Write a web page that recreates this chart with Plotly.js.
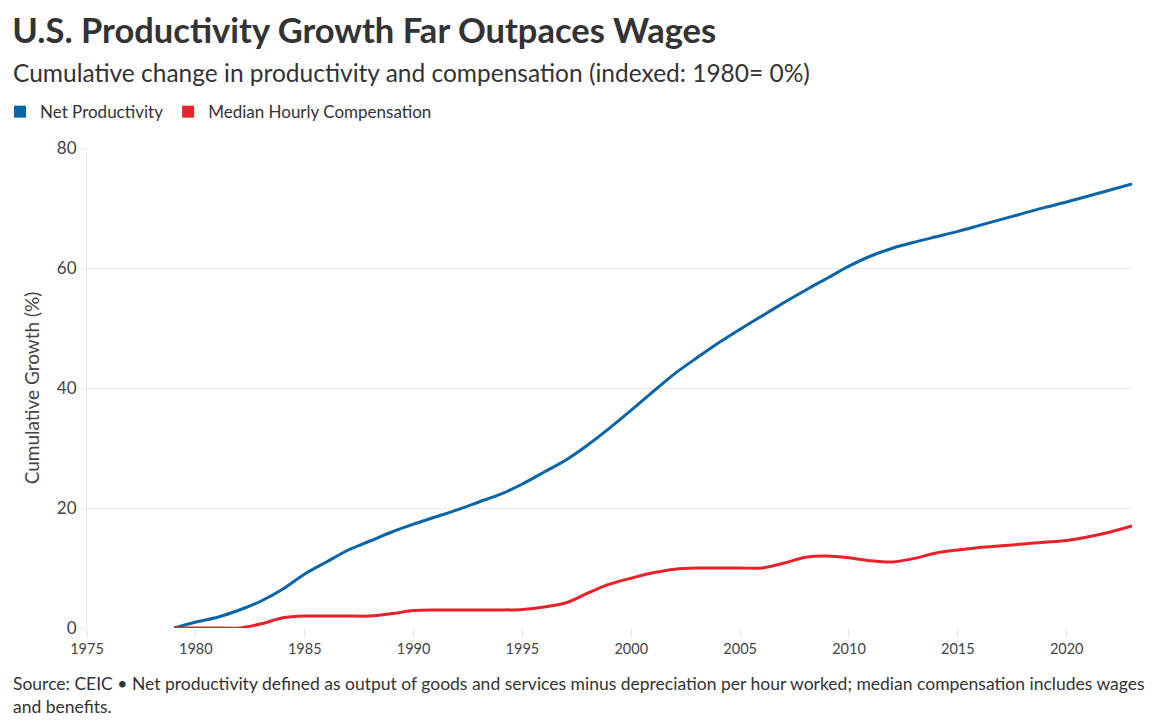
<!DOCTYPE html>
<html>
<head>
<meta charset="utf-8">
<script src="https://cdn.plot.ly/plotly-3.0.1.min.js"></script>
<style>html,body{margin:0;padding:0;background:#fff;}#chart{width:1168px;height:728px;}</style>
</head>
<body>
<div id="chart"></div>
<script>
const years = [1979,1980,1981,1982,1983,1984,1985,1986,1987,1988,1989,1990,1991,1992,1993,1994,1995,1996,1997,1998,1999,2000,2001,2002,2003,2004,2005,2006,2007,2008,2009,2010,2011,2012,2013,2014,2015,2016,2017,2018,2019,2020,2021,2022,2023];
const netProductivity = [0,1,1.8,3,4.5,6.5,9,11,13,14.5,16,17.3,18.5,19.7,21,22.3,24,26,28,30.5,33.3,36.3,39.4,42.4,45,47.5,49.8,52,54.2,56.3,58.3,60.3,62,63.3,64.3,65.2,66.1,67.1,68.1,69.1,70.1,71,72,73,74];
const medianCompensation = [0,0,0,0,0.7,1.7,2,2,2,2,2.4,2.9,3,3,3,3,3.1,3.5,4.2,5.8,7.3,8.3,9.2,9.8,10,10,10,10,10.8,11.8,12,11.7,11.2,11,11.6,12.5,13,13.4,13.7,14,14.3,14.6,15.2,16,17];
const seriesNames = ["Net Productivity", "Median Hourly Compensation"];
const xTicks = [1975,1980,1985,1990,1995,2000,2005,2010,2015,2020];
const yTicks = [0,20,40,60,80];

const colors = ["#0A64A8", "#E8212B"];
const fam = "Lato, 'Open Sans', sans-serif";

const traces = [
  {x: years, y: netProductivity, name: seriesNames[0], type: "scatter", mode: "lines",
   line: {color: colors[0], width: 3, shape: "spline", smoothing: 0.8}, showlegend: false},
  {x: years, y: medianCompensation, name: seriesNames[1], type: "scatter", mode: "lines",
   line: {color: colors[1], width: 3, shape: "spline", smoothing: 0.8}, showlegend: false},
  {x: [null], y: [null], name: seriesNames[0], type: "scatter", mode: "markers",
   marker: {symbol: "square", size: 12, color: colors[0]}},
  {x: [null], y: [null], name: seriesNames[1], type: "scatter", mode: "markers",
   marker: {symbol: "square", size: 12, color: colors[1]}}
];

const layout = {
  width: 1168, height: 728,
  margin: {l: 87, r: 36, t: 148, b: 100, autoexpand: false},
  paper_bgcolor: "#fff", plot_bgcolor: "#fff",
  font: {family: fam, color: "#333"},
  title: {text: "<b>U.S. Productivity Growth Far Outpaces Wages</b>", x: 0.0105, xanchor: "left", y: 0.957, yanchor: "middle",
          font: {family: fam, size: 34.5, color: "#333"}},
  showlegend: true,
  legend: {orientation: "h", xref: "container", x: 0, xanchor: "left", yref: "container", y: 0.846, yanchor: "middle",
           font: {size: 17, color: "#333"}, itemwidth: 30, tracegroupgap: 0, bgcolor: "rgba(0,0,0,0)"},
  xaxis: {range: [1975, 2023], tickvals: xTicks, ticktext: xTicks.map(String),
          showgrid: false, zeroline: false, showline: false,
          ticks: "outside", ticklen: 8, tickcolor: "#e6e6e6", tickwidth: 1,
          tickfont: {size: 14.5, color: "#444"}, fixedrange: true},
  yaxis: {range: [0, 80], tickvals: yTicks, ticktext: yTicks.map(String),
          showgrid: true, gridcolor: "#ebebeb", gridwidth: 1, zeroline: false,
          showline: true, linecolor: "#ebebeb", linewidth: 1,
          ticks: "outside", ticklen: 6, tickcolor: "#ebebeb",
          tickfont: {size: 17, color: "#444"},
          title: {text: "Cumulative Growth (%)", font: {size: 19, color: "#444"}, standoff: 12}},
  annotations: [
    {text: "Cumulative change in productivity and compensation (indexed: 1980= 0%)", xref: "paper", yref: "paper",
     x: -0.0728, xanchor: "left", y: 1.158, yanchor: "middle", showarrow: false,
     font: {size: 24.5, color: "#333"}},
    {text: "Source: CEIC \u2022 Net productivity defined as output of goods and services minus depreciation per hour worked; median compensation includes wages<br>and benefits.",
     xref: "paper", yref: "paper", x: -0.0728, xanchor: "left", y: -0.09, yanchor: "top", align: "left", showarrow: false,
     font: {size: 17.5, color: "#333"}}
  ]
};

Plotly.newPlot("chart", traces, layout, {displayModeBar: false, staticPlot: true});
</script>
</body>
</html>
